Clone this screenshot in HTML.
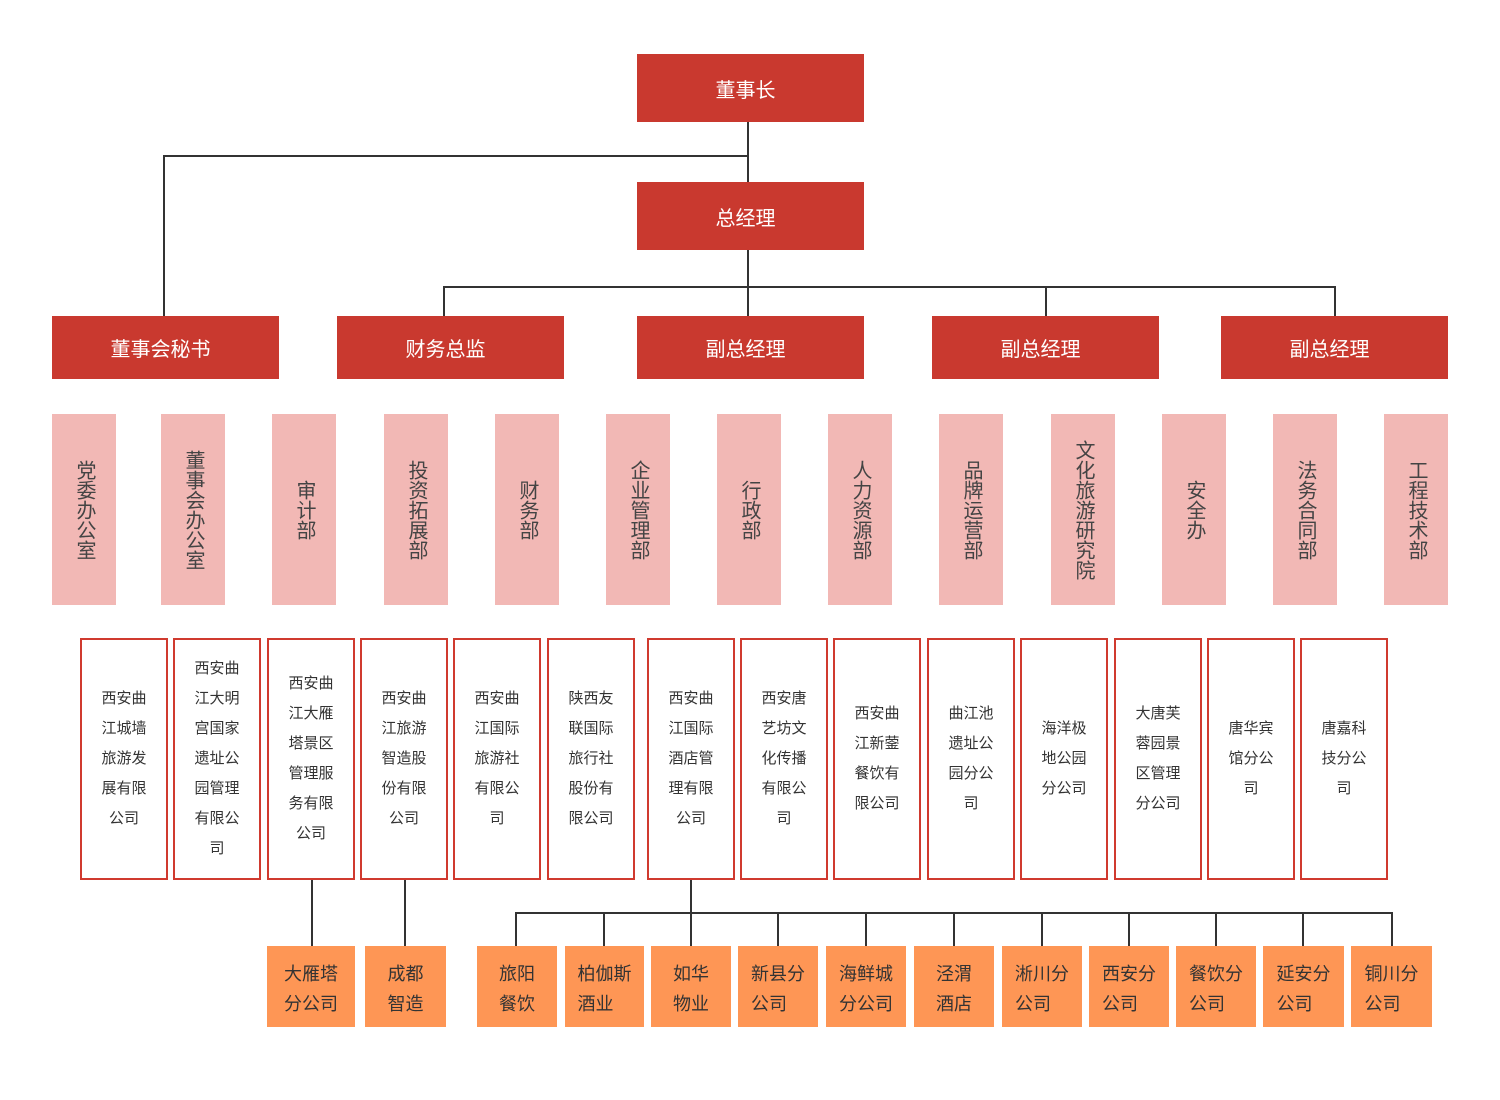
<!DOCTYPE html>
<html><head><meta charset="utf-8">
<style>
body{margin:0;width:1500px;height:1100px;background:#fff;position:relative;overflow:hidden;font-family:"Liberation Sans","Noto Sans CJK SC",sans-serif}
.r{position:absolute;background:#c9392f;color:#fff;font-size:20px;display:flex;align-items:center;justify-content:center;padding-right:10px;box-sizing:border-box}
.p{position:absolute;top:414px;width:64px;height:191px;background:#f2b8b5;color:#444;font-size:20px;display:flex;align-items:center;justify-content:center}
.p span{writing-mode:vertical-rl;line-height:1}
.c{position:absolute;top:638px;width:84px;height:238px;border:2px solid #d03a2f;box-sizing:content-box;display:flex;align-items:center;justify-content:center;font-size:15px;line-height:30px;color:#333;text-align:center}
.o{position:absolute;top:946px;height:81px;padding-top:4px;box-sizing:border-box;background:#fe9655;color:#333;font-size:18px;line-height:30px;display:flex;align-items:center;justify-content:center;text-align:left}
.h{position:absolute;height:2px;background:#333}
.v{position:absolute;width:2px;background:#333}
</style></head><body>
<div class="v" style="left:747px;top:122px;height:60px"></div>
<div class="h" style="left:163px;top:155px;width:586px"></div>
<div class="v" style="left:163px;top:155px;height:161px"></div>
<div class="v" style="left:747px;top:250px;height:66px"></div>
<div class="h" style="left:443px;top:286px;width:893px"></div>
<div class="v" style="left:443px;top:286px;height:30px"></div>
<div class="v" style="left:1045px;top:286px;height:30px"></div>
<div class="v" style="left:1334px;top:286px;height:30px"></div>

<div class="r" style="left:637px;top:54px;width:227px;height:68px">董事长</div>
<div class="r" style="left:637px;top:182px;width:227px;height:68px">总经理</div>
<div class="r" style="left:52px;top:316px;width:227px;height:63px">董事会秘书</div>
<div class="r" style="left:337px;top:316px;width:227px;height:63px">财务总监</div>
<div class="r" style="left:637px;top:316px;width:227px;height:63px">副总经理</div>
<div class="r" style="left:932px;top:316px;width:227px;height:63px">副总经理</div>
<div class="r" style="left:1221px;top:316px;width:227px;height:63px">副总经理</div>

<div class="p" style="left:52px"><span>党委办公室</span></div>
<div class="p" style="left:161px"><span>董事会办公室</span></div>
<div class="p" style="left:272px"><span>审计部</span></div>
<div class="p" style="left:384px"><span>投资拓展部</span></div>
<div class="p" style="left:495px"><span>财务部</span></div>
<div class="p" style="left:606px"><span>企业管理部</span></div>
<div class="p" style="left:717px"><span>行政部</span></div>
<div class="p" style="left:828px"><span>人力资源部</span></div>
<div class="p" style="left:939px"><span>品牌运营部</span></div>
<div class="p" style="left:1051px"><span>文化旅游研究院</span></div>
<div class="p" style="left:1162px"><span>安全办</span></div>
<div class="p" style="left:1273px"><span>法务合同部</span></div>
<div class="p" style="left:1384px"><span>工程技术部</span></div>

<div class="c" style="left:80px"><div>西安曲<br>江城墙<br>旅游发<br>展有限<br>公司</div></div>
<div class="c" style="left:173px"><div>西安曲<br>江大明<br>宫国家<br>遗址公<br>园管理<br>有限公<br>司</div></div>
<div class="c" style="left:267px"><div>西安曲<br>江大雁<br>塔景区<br>管理服<br>务有限<br>公司</div></div>
<div class="c" style="left:360px"><div>西安曲<br>江旅游<br>智造股<br>份有限<br>公司</div></div>
<div class="c" style="left:453px"><div>西安曲<br>江国际<br>旅游社<br>有限公<br>司</div></div>
<div class="c" style="left:547px"><div>陕西友<br>联国际<br>旅行社<br>股份有<br>限公司</div></div>
<div class="c" style="left:647px"><div>西安曲<br>江国际<br>酒店管<br>理有限<br>公司</div></div>
<div class="c" style="left:740px"><div>西安唐<br>艺坊文<br>化传播<br>有限公<br>司</div></div>
<div class="c" style="left:833px"><div>西安曲<br>江新蓥<br>餐饮有<br>限公司</div></div>
<div class="c" style="left:927px"><div>曲江池<br>遗址公<br>园分公<br>司</div></div>
<div class="c" style="left:1020px"><div>海洋极<br>地公园<br>分公司</div></div>
<div class="c" style="left:1114px"><div>大唐芙<br>蓉园景<br>区管理<br>分公司</div></div>
<div class="c" style="left:1207px"><div>唐华宾<br>馆分公<br>司</div></div>
<div class="c" style="left:1300px"><div>唐嘉科<br>技分公<br>司</div></div>

<div class="v" style="left:311px;top:880px;height:66px"></div>
<div class="v" style="left:404px;top:880px;height:66px"></div>
<div class="v" style="left:690px;top:880px;height:66px"></div>
<div class="h" style="left:515px;top:912px;width:878px"></div>
<div class="v" style="left:515px;top:912px;height:34px"></div>
<div class="v" style="left:603px;top:912px;height:34px"></div>
<div class="v" style="left:777px;top:912px;height:34px"></div>
<div class="v" style="left:865px;top:912px;height:34px"></div>
<div class="v" style="left:953px;top:912px;height:34px"></div>
<div class="v" style="left:1041px;top:912px;height:34px"></div>
<div class="v" style="left:1128px;top:912px;height:34px"></div>
<div class="v" style="left:1215px;top:912px;height:34px"></div>
<div class="v" style="left:1302px;top:912px;height:34px"></div>
<div class="v" style="left:1391px;top:912px;height:34px"></div>

<div class="o" style="left:267px;width:88px"><div>大雁塔<br>分公司</div></div>
<div class="o" style="left:365px;width:81px"><div>成都<br>智造</div></div>
<div class="o" style="left:477px;width:80px"><div>旅阳<br>餐饮</div></div>
<div class="o" style="left:565px;width:79px"><div>柏伽斯<br>酒业</div></div>
<div class="o" style="left:651px;width:80px"><div>如华<br>物业</div></div>
<div class="o" style="left:738px;width:80px"><div>新县分<br>公司</div></div>
<div class="o" style="left:826px;width:80px"><div>海鲜城<br>分公司</div></div>
<div class="o" style="left:914px;width:80px"><div>泾渭<br>酒店</div></div>
<div class="o" style="left:1002px;width:80px"><div>淅川分<br>公司</div></div>
<div class="o" style="left:1089px;width:80px"><div>西安分<br>公司</div></div>
<div class="o" style="left:1176px;width:80px"><div>餐饮分<br>公司</div></div>
<div class="o" style="left:1263px;width:81px"><div>延安分<br>公司</div></div>
<div class="o" style="left:1351px;width:81px"><div>铜川分<br>公司</div></div>
</body></html>
